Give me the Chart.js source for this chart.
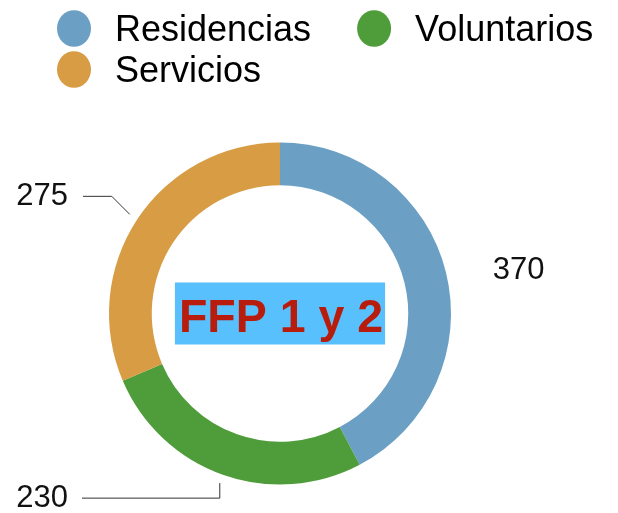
<!DOCTYPE html>
<html>
<head>
<meta charset="utf-8">
<script src="https://cdn.jsdelivr.net/npm/chart.js@4.4.1/dist/chart.umd.min.js"></script>
<style>
    html, body { margin: 0; padding: 0; background: #fff; }
    #wrap { width: 618px; height: 513px; position: relative; }
</style>
</head>
<body>
<div id="wrap"><canvas id="donutChart"></canvas></div>
<script>
    // Chart data
    var categories = ['Residencias', 'Voluntarios', 'Servicios'];
    var values = [370, 230, 275];
    var sliceColors = ['#6b9fc4', '#4f9c3a', '#d79c44'];
    var centerTitle = 'FFP 1 y 2';

    var FONT = "'Liberation Sans', Arial, Helvetica, sans-serif";

    // How each value label sits next to its slice (leader: null, 'diagonal' or 'vertical')
    var labelStyles = [
        { leader: null, textDx: 38, textDy: 0 },
        { leader: 'vertical', dy: 15, lineEndX: 82, textRight: 68 },
        { leader: 'diagonal', dy: -18, lineEndX: 83, textRight: 68 }
    ];

    // Legend in two columns, drawn on top of the canvas
    var legendPlugin = {
        id: 'topLegend',
        afterDraw: function (chart) {
            var ctx = chart.ctx;
            var colors = chart.data.datasets[0].backgroundColor;
            var startX = 57, x = startX, y = 28.5;
            var rx = 17, ry = 18.3, gap = 24, itemGap = 46, rowHeight = 41;
            ctx.save();
            ctx.font = '36px ' + FONT;
            ctx.textBaseline = 'alphabetic';
            chart.data.labels.forEach(function (label, i) {
                var w = rx * 2 + gap + ctx.measureText(label).width;
                if (i > 0 && x + w > chart.width - 10) {
                    x = startX;
                    y += rowHeight;
                }
                ctx.fillStyle = colors[i];
                ctx.beginPath();
                ctx.ellipse(x + rx, y, rx, ry, 0, 0, Math.PI * 2);
                ctx.fill();
                ctx.fillStyle = '#000';
                ctx.textAlign = 'left';
                ctx.fillText(label, x + rx * 2 + gap, y + 12);
                x += w + itemGap;
            });
            ctx.restore();
        }
    };

    // Center title and value labels with leader lines
    var labelPlugin = {
        id: 'donutLabels',
        afterDatasetsDraw: function (chart) {
            var ctx = chart.ctx;
            var meta = chart.getDatasetMeta(0);
            var data = chart.data.datasets[0].data;
            ctx.save();

            meta.data.forEach(function (arc, i) {
                var p = arc.getProps(['x', 'y', 'startAngle', 'endAngle', 'outerRadius'], true);
                var mid = (p.startAngle + p.endAngle) / 2;
                var r = p.outerRadius + 9;
                var ax = p.x + Math.cos(mid) * r;
                var ay = p.y + Math.sin(mid) * r;
                var st = labelStyles[i];
                ctx.font = '31px ' + FONT;
                ctx.fillStyle = '#111';
                ctx.textBaseline = 'middle';
                if (!st.leader) {
                    ctx.textAlign = 'left';
                    ctx.fillText(String(data[i]), ax + st.textDx, ay + st.textDy);
                    return;
                }
                var ey = ay + st.dy;
                var ex = st.leader === 'diagonal' ? ax - Math.abs(st.dy) : ax;
                ctx.strokeStyle = '#333';
                ctx.lineWidth = 1;
                ctx.beginPath();
                ctx.moveTo(ax, ay);
                ctx.lineTo(ex, ey);
                ctx.lineTo(st.lineEndX, ey);
                ctx.stroke();
                ctx.textAlign = 'right';
                ctx.fillText(String(data[i]), st.textRight, ey);
            });

            // center title
            var cx = meta.data[0].x, cy = meta.data[0].y;
            ctx.font = 'bold 46.5px ' + FONT;
            var tw = ctx.measureText(centerTitle).width;
            ctx.fillStyle = '#58c0fd';
            ctx.fillRect(cx - tw / 2 - 3, cy - 31, tw + 6, 62);
            ctx.fillStyle = '#b81c0c';
            ctx.textAlign = 'center';
            ctx.textBaseline = 'alphabetic';
            ctx.fillText(centerTitle, cx + 1, cy + 18);
            ctx.restore();
        }
    };

    var donutChart = new Chart(document.getElementById('donutChart'), {
        type: 'doughnut',
        data: {
            labels: categories,
            datasets: [{
                data: values,
                backgroundColor: sliceColors,
                borderWidth: 0
            }]
        },
        options: {
            responsive: true,
            maintainAspectRatio: false,
            animation: false,
            cutout: '75%',
            layout: {
                padding: { top: 142.5, bottom: 28.5, left: 109, right: 167 }
            },
            plugins: {
                legend: { display: false },
                tooltip: { enabled: false }
            }
        },
        plugins: [legendPlugin, labelPlugin]
    });
</script>
</body>
</html>
